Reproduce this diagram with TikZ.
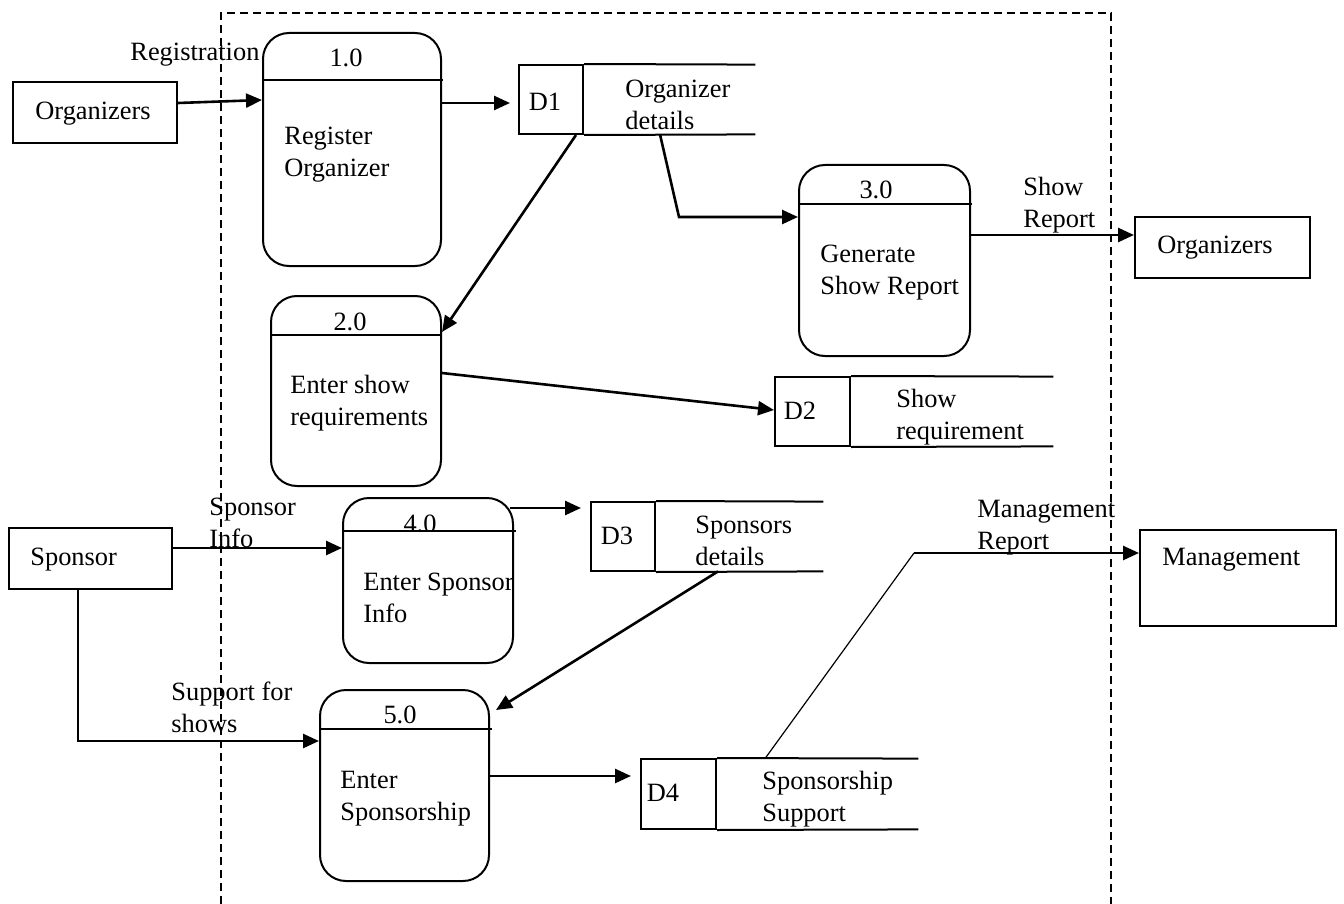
\documentclass[tikz,border=0pt]{standalone}
\usepackage{fontspec}
\setmainfont{Liberation Serif}
\usetikzlibrary{arrows.meta}

\tikzset{
  ext/.style={draw, line width=1pt, inner sep=0pt},
  proc/.style={draw, line width=1pt, rounded corners=13pt, inner sep=0pt},
  storeid/.style={draw, line width=1pt, inner sep=0pt},
  storelbl/.style={inner sep=0pt},
  txt/.style={inner sep=0pt, align=left, anchor=west, yshift=-1.5pt},
  num/.style={inner sep=0pt},
  divider/.style={line width=0.8pt},
  flow/.style={line width=1.3pt, -{Triangle[length=8pt,width=7pt]}},
}

\begin{document}
\begin{tikzpicture}[x=0.5pt, y=-0.5pt, font=\fontsize{13.2}{16}\selectfont]
\useasboundingbox (0,0) rectangle (1344,904);
% Boundary
\draw[dash pattern=on 4pt off 2.5pt, line width=0.8pt] (221,904) -- (221,13) -- (1111,13) -- (1111,904);

% External entities
\node[ext, minimum width=82pt, minimum height=30.5pt] (org1) at (95,112.5) {};
\node[txt] (org1t) at (35,111) {Organizers};
\node[ext, minimum width=87.5pt, minimum height=30.5pt] (org2) at (1222.5,247.5) {};
\node[txt] (org2t) at (1157,245) {Organizers};
\node[ext, minimum width=81.5pt, minimum height=30.5pt] (spon) at (90.5,558.5) {};
\node[txt] (spont) at (30,557) {Sponsor};
\node[ext, minimum width=98pt, minimum height=48pt] (mgmt) at (1238,578) {};
\node[txt] (mgmtt) at (1162,557) {Management};

% Processes
\node[proc, minimum width=89pt, minimum height=116.5pt] (p1) at (352,149.5) {};
\draw[divider] (p1.west |- 0,80) -- (443,80);
\node[num] at (346,58) {1.0};
\node[txt] (p1t) at (284,152) {Register\\Organizer};

\node[proc, minimum width=85pt, minimum height=95pt] (p2) at (356,391) {};
\draw[divider] (p2.west |- 0,335) -- (p2.east |- 0,335);
\node[num] at (350,322) {2.0};
\node[txt] (p2t) at (290,400.5) {Enter show\\requirements};

\node[proc, minimum width=85.5pt, minimum height=95.5pt] (p3) at (884.5,260.5) {};
\draw[divider] (p3.west |- 0,204) -- (972,204);
\node[num] at (876,190) {3.0};
\node[txt] (p3t) at (820,270) {Generate\\Show Report};

\node[proc, minimum width=85pt, minimum height=82.5pt] (p4) at (428,580.5) {};
\draw[divider] (p4.west |- 0,531) -- (516,531);
\begin{scope}
  \clip (343,498) rectangle (513,530);
  \node[num] at (420,524) {4.0};
\end{scope}
\node[txt] (p4t) at (363,594.5) {Enter Sponsor\\Info};

\node[proc, minimum width=84.5pt, minimum height=95.5pt] (p5) at (404.5,785.5) {};
\draw[divider] (p5.west |- 0,729) -- (492,729);
\node[num] at (400,715) {5.0};
\node[txt] (p5t) at (340,796) {Enter\\Sponsorship};

% Data stores
\node[storeid, minimum width=32pt, minimum height=34.5pt] (d1) at (551,99.5) {};
\node[storelbl, minimum width=86pt, minimum height=34.5pt] (d1l) at (669,99.5) {};
\draw[line width=1pt] (d1.north east) -- (d1l.north east) (d1.south east) -- (d1l.south east);
\node[num] at (545,102) {D1};
\node[txt] at (625,102) {Organizer\\details};

\node[storeid, minimum width=37.5pt, minimum height=34.5pt] (d2) at (812.5,411.5) {};
\node[storelbl, minimum width=101.5pt, minimum height=34.5pt] (d2l) at (951.5,411.5) {};
\draw[line width=1pt] (d2.north east) -- (d2l.north east) (d2.south east) -- (d2l.south east);
\node[num] at (800,411) {D2};
\node[txt] at (896,414.5) {Show\\requirement};

\node[storeid, minimum width=32pt, minimum height=34.5pt] (d3) at (623,536.5) {};
\node[storelbl, minimum width=84pt, minimum height=34.5pt] (d3l) at (739,536.5) {};
\draw[line width=1pt] (d3.north east) -- (d3l.north east) (d3.south east) -- (d3l.south east);
\node[num] at (617,536) {D3};
\node[txt] at (695,538) {Sponsors\\details};

\node[storeid, minimum width=37.5pt, minimum height=35pt] (d4) at (678.5,794) {};
\node[storelbl, minimum width=101pt, minimum height=35pt] (d4l) at (817,794) {};
\draw[line width=1pt] (d4.north east) -- (d4l.north east) (d4.south east) -- (d4l.south east);
\node[num] at (663,793) {D4};
\node[txt] at (762,796) {Sponsorship\\Support};

% Flows
\draw[flow] (org1.east |- 0,103) -- (p1.west |- 0,100);
\node[txt] at (130,52) {Registration};
\draw[flow, shorten >=4pt] (p1.east |- 0,103) -- (d1.west |- 0,103);
\draw[flow] ([xshift=-4pt]d1.south east) -- (p2.east |- 0,332);
\draw[flow] (d1l.south -| 660,0) -- (679,217) -- (p3.west |- 0,217);
\draw[flow] (p3.east |- 0,235) -- (org2.west |- 0,235);
\node[txt] at (1023,202) {Show\\Report};
\draw[flow] (p2.east |- 0,373) -- (d2.west |- 0,410);
\draw[flow] (spon.east |- 0,548) -- (p4.west |- 0,548);
\node[txt] at (209,519.5) {Sponsor\\Info};
\draw[flow, shorten >=4.5pt] (510,508) -- (d3.west |- 0,508);
\draw[flow] (d3l.south -| 718,0) -- ([xshift=3pt]p5.east |- 0,710);
\draw[flow] (spon.south -| 78,0) |- (p5.west |- 0,741);
\node[txt] at (171,704.5) {Support for\\shows};
\draw[flow, shorten >=4.5pt] (p5.east |- 0,776) -- (d4.west |- 0,776);
\coordinate (mbend) at (914,553);
\draw[line width=0.6pt] (d4l.north -| 765,0) -- (mbend);
\draw[flow] (mbend) -- (mgmt.west |- 0,553);
\node[txt] at (977,524.5) {Management\\Report};
\end{tikzpicture}
\end{document}
